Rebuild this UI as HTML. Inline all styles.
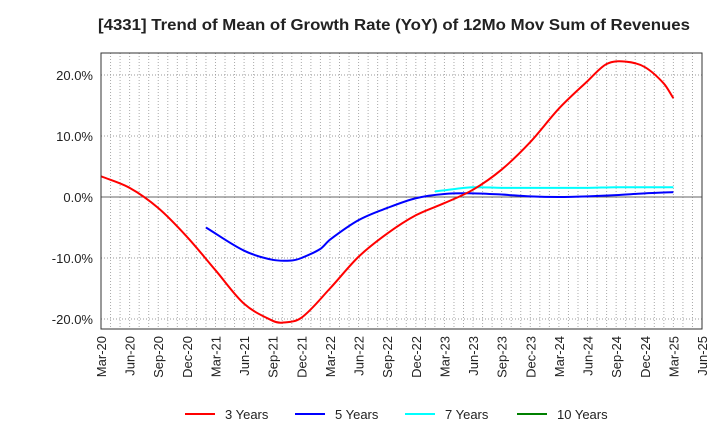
<!DOCTYPE html>
<html><head><meta charset="utf-8"><style>
body{margin:0;background:#fff;font-family:"Liberation Sans",Arial,sans-serif}
svg text{font-family:"Liberation Sans",Arial,sans-serif}
</style></head><body>
<svg id="c" width="720" height="440" xmlns="http://www.w3.org/2000/svg">
<text x="394" y="30" text-anchor="middle" font-size="16" font-weight="bold" fill="#222" textLength="592" lengthAdjust="spacingAndGlyphs">[4331]  Trend of Mean of Growth Rate (YoY) of 12Mo Mov Sum of Revenues</text>
<g id="grid"></g><g id="series"></g><g id="axes"></g><g id="legend"></g>
</svg>
<script>
const xTickLabels=["Mar-20","Jun-20","Sep-20","Dec-20","Mar-21","Jun-21","Sep-21","Dec-21","Mar-22","Jun-22","Sep-22","Dec-22","Mar-23","Jun-23","Sep-23","Dec-23","Mar-24","Jun-24","Sep-24","Dec-24","Mar-25","Jun-25"];
const yTicks=[20,10,0,-10,-20];
const s3Months=[0,3,6,9,12,15,18,19,21,24,27,30,33,36,39,42,45,48,51,53,55,57,59,60];
const s3Values=[3.4,1.5,-1.8,-6.5,-12,-17.5,-20.3,-20.6,-19.8,-15,-9.8,-6,-3,-1,1.2,4.5,9,14.5,19,21.8,22.2,21.3,18.6,16.2];
const s5Months=[11,15,18,20,21,23,24,27,30,33,36,39,42,45,48,51,54,57,60];
const s5Values=[-5,-8.8,-10.3,-10.4,-10,-8.5,-7,-3.8,-1.8,-0.2,0.5,0.6,0.4,0.1,0.0,0.1,0.3,0.6,0.8];
const s7Months=[35,37,39,42,45,48,51,54,57,60];
const s7Values=[0.9,1.3,1.6,1.5,1.5,1.5,1.5,1.6,1.6,1.6];
const legendLabels=["3 Years","5 Years","7 Years","10 Years"];
const legendColors=["#ff0000","#0000ff","#00ffff","#008000"];
const L=101,R=702,T=53,B=329,NM=63;
const x=m=>L+(R-L)*m/NM;
const y=v=>197-6.1*v;
const NS="http://www.w3.org/2000/svg";
function mk(t,a,p){const e=document.createElementNS(NS,t);for(const k in a)e.setAttribute(k,a[k]);p.appendChild(e);return e;}
const grid=document.getElementById('grid'),axes=document.getElementById('axes'),ser=document.getElementById('series'),leg=document.getElementById('legend');
for(let m=1;m<NM;m++){const l=mk('line',{x1:x(m),x2:x(m),y1:T,y2:B,stroke:'#aaa','stroke-dasharray':'1,2','stroke-width':1},grid);

}
yTicks.forEach(v=>{const l=mk('line',{x1:L,x2:R,y1:y(v),y2:y(v),stroke:v===0?'#666':'#999','stroke-dasharray':v===0?'':'1,2','stroke-width':1},grid);


const t=mk('text',{x:L-8,y:y(v)+5,'text-anchor':'end','font-size':13,fill:'#222'},axes);


t.textContent=v.toFixed(1)+'%';});
const fr=mk('rect',{x:L,y:T,width:R-L,height:B-T,fill:'none',stroke:'#333','stroke-width':1},axes);


xTickLabels.forEach((s,i)=>{const xx=x(i*3);const t=mk('text',{transform:`translate(${xx+5},${B+7}) rotate(-90)`,'text-anchor':'end','font-size':13,fill:'#222'},axes);


t.textContent=s;});
function path(ms,vs){const p=ms.map((m,i)=>[x(m),y(vs[i])]);const n=p.length;
const sl=[];for(let i=0;i<n;i++){const a=p[Math.max(0,i-1)],b=p[Math.min(n-1,i+1)];sl.push((b[1]-a[1])/(b[0]-a[0]));}
let d='M'+p[0][0]+','+p[0][1];
for(let i=0;i<n-1;i++){const h=(p[i+1][0]-p[i][0])/3;
d+=` C${p[i][0]+h},${p[i][1]+sl[i]*h} ${p[i+1][0]-h},${p[i+1][1]-sl[i+1]*h} ${p[i+1][0]},${p[i+1][1]}`;}return d;}
[[s7Months,s7Values,2,'series-7-years'],[s5Months,s5Values,1,'series-5-years'],[s3Months,s3Values,0,'series-3-years']].forEach(([m,v,c,n])=>{
const e=mk('path',{d:path(m,v),fill:'none',stroke:legendColors[c],'stroke-width':2},ser);

});
const lx=[185,295,405,517];
legendLabels.forEach((s,i)=>{const g=mk('g',{},leg);


mk('line',{x1:lx[i],x2:lx[i]+30,y1:414,y2:414,stroke:legendColors[i],'stroke-width':2},g);
const t=mk('text',{x:lx[i]+40,y:419,'font-size':13,fill:'#222'},g);t.textContent=s;});
</script>
</body></html>
